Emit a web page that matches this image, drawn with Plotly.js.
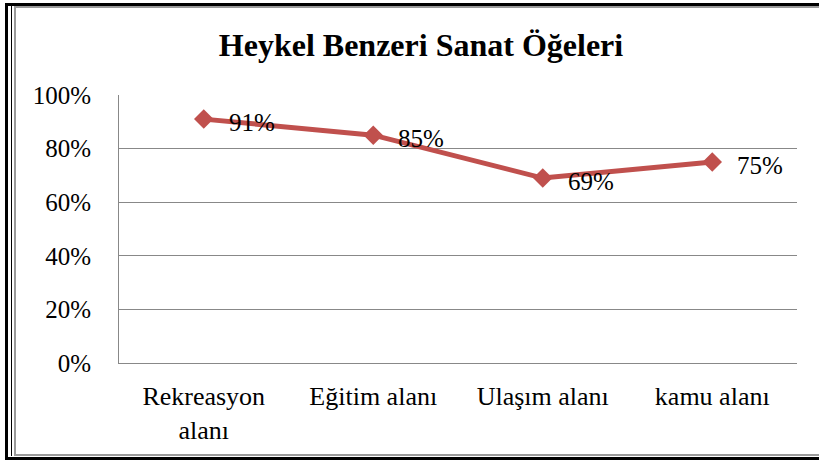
<!DOCTYPE html>
<html>
<head>
<meta charset="utf-8">
<script src="https://cdn.plot.ly/plotly-3.0.1.min.js"></script>
<style>
  html, body { margin: 0; padding: 0; background: #fff; overflow: hidden; }
  #wrap { position: relative; width: 819px; height: 461px; }
  #chart { position: absolute; left: 0; top: 0; width: 819px; height: 461px; }
  .fr { position: absolute; pointer-events: none; box-sizing: border-box; }
</style>
</head>
<body>
<div id="wrap">
  <div id="chart"></div>
  <div class="fr" style="left:5px; top:3px; width:830px; height:457px; border-left:3px solid #000; border-top:3px solid #000; border-bottom:3px solid #000;"></div>
  <div class="fr" style="left:11px; top:6px; width:830px; height:450px; border-left:1px solid #000;"></div>
  <div class="fr" style="left:14px; top:6px; width:830px; height:450px; border-left:2px solid #9a9a9a; border-top:2px solid #9a9a9a; border-bottom:2px solid #9a9a9a;"></div>
</div>
<script>
const categories = ["Rekreasyon<br>alanı", "Eğitim alanı", "Ulaşım alanı", "kamu alanı"];
const values = [0.91, 0.85, 0.69, 0.75];
const valueLabels = ["91%", "85%", "69%", "75%"];
const yTickVals = [0, 0.2, 0.4, 0.6, 0.8, 1.0];
const yTickText = ["0%", "20%", "40%", "60%", "80%", "100%"];
const chartTitle = "Heykel Benzeri Sanat Öğeleri";

const serif = "Liberation Serif";

const trace = {
  type: "scatter",
  mode: "lines+markers",
  x: categories,
  y: values,
  line: { color: "#C0504D", width: 5 },
  marker: { symbol: "diamond", size: 15, color: "#C0504D" },
  cliponaxis: false,
  hoverinfo: "none"
};

const annotations = categories.map((c, i) => ({
  x: c,
  y: values[i],
  xref: "x",
  yref: "y",
  text: valueLabels[i],
  showarrow: false,
  xanchor: "left",
  yanchor: "middle",
  xshift: 23,
  yshift: -3,
  font: { family: serif, size: 25, color: "#000" }
}));

const layout = {
  width: 819,
  height: 461,
  margin: { l: 119, r: 22, t: 95, b: 98 },
  paper_bgcolor: "#fff",
  plot_bgcolor: "#fff",
  showlegend: false,
  font: { family: serif, size: 25, color: "#000" },
  annotations: annotations,
  title: {
    text: "<b>" + chartTitle + "</b>",
    font: { family: serif, size: 32, color: "#000" },
    x: 421 / 819,
    xref: "container",
    xanchor: "center",
    y: 1 - 45 / 461,
    yref: "container",
    yanchor: "middle"
  },
  xaxis: {
    type: "category",
    range: [-0.5, 3.5],
    showgrid: false,
    showline: true,
    linecolor: "#888",
    linewidth: 1,
    ticks: "",
    zeroline: false,
    tickfont: { family: serif, size: 26, color: "#000" },
    ticklabelstandoff: 10
  },
  yaxis: {
    range: [0, 1.0],
    tickvals: yTickVals,
    ticktext: yTickText,
    showgrid: true,
    gridcolor: "#888",
    gridwidth: 1,
    showline: true,
    linecolor: "#888",
    linewidth: 1,
    ticks: "",
    zeroline: false,
    tickfont: { family: serif, size: 25, color: "#000" },
    ticklabelstandoff: 22
  }
};

Plotly.newPlot("chart", [trace], layout, { staticPlot: true, displayModeBar: false });
</script>
</body>
</html>
